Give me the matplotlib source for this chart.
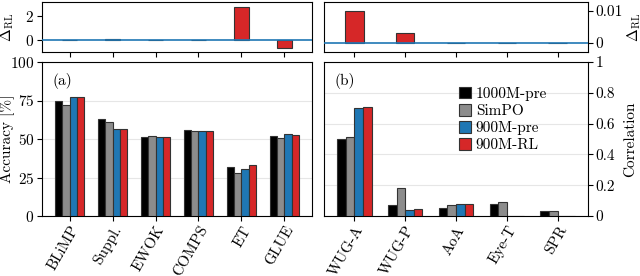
import numpy as np
import matplotlib
matplotlib.use('Agg')
from matplotlib import pyplot as plt

plt.rcParams['font.family'] = 'serif'
plt.rcParams['font.serif'] = ['cmr10', 'DejaVu Serif']
plt.rcParams['mathtext.fontset'] = 'cm'
plt.rcParams['axes.unicode_minus'] = False
plt.rcParams['axes.formatter.use_mathtext'] = True
plt.rcParams['font.size'] = 11

models = ['1000M-pre', 'SimPO', '900M-pre', '900M-RL']
colors = ['#000000', '#8c8c8c', '#1f77b4', '#d62728']

tasks_a = ['BLiMP', 'Suppl.', 'EWOK', 'COMPS', 'ET', 'GLUE']
acc_1000m = [75.0, 63.0, 51.5, 56.0, 31.5, 52.0]
acc_simpo = [72.0, 61.0, 52.0, 55.0, 28.0, 50.5]
acc_900m = [77.5, 56.5, 51.5, 55.0, 30.2, 53.0]
acc_rl = [77.5, 56.6, 51.55, 55.0, 33.0, 52.3]

tasks_b = ['WUG-A', 'WUG-P', 'AoA', 'Eye-T', 'SPR']
cor_1000m = [0.50, 0.07, 0.05, 0.08, 0.03]
cor_simpo = [0.51, 0.18, 0.07, 0.09, 0.035]
cor_900m = [0.70, 0.04, 0.08, 0.002, 0.0]
cor_rl = [0.71, 0.043, 0.08, 0.002, 0.0]

W, H = 640, 276
fig = plt.figure(figsize=(6.4, 2.76), dpi=100)


def box(x0, y0, x1, y1):
    return [x0 / W, 1 - y1 / H, (x1 - x0) / W, (y1 - y0) / H]


ax_da = fig.add_axes(box(42, 2, 312, 52))
ax_a = fig.add_axes(box(42, 62, 312, 216))
ax_db = fig.add_axes(box(324, 2, 588, 52))
ax_b = fig.add_axes(box(324, 62, 588, 216))

bw = 0.17
offs = np.array([-1.5, -0.5, 0.5, 1.5]) * bw


def draw_main(ax, tasks, series):
    x = np.arange(len(tasks))
    for i, (vals, c) in enumerate(zip(series, colors)):
        ax.bar(x + offs[i], vals, bw, color=c, edgecolor='#333333',
               linewidth=0.8, label=models[i], zorder=3)
    ax.set_xticks(x)
    ax.set_xticklabels(tasks, rotation=60, ha='right', rotation_mode='anchor')
    ax.grid(axis='y', color='#e6e6e6', linewidth=0.8, zorder=0)
    ax.tick_params(direction='out', length=3.5, pad=2)


def draw_delta(ax, tasks, pre, rl):
    x = np.arange(len(tasks))
    d = np.array(rl) - np.array(pre)
    ax.bar(x, d, 0.36, color=colors[3], edgecolor='#333333', linewidth=0.8, zorder=3)
    ax.axhline(0, color='#1f77b4', linewidth=1.2, zorder=4)
    ax.set_xticks(x)
    ax.set_xticklabels([])
    ax.tick_params(direction='out', length=3.5, pad=2)


draw_main(ax_a, tasks_a, [acc_1000m, acc_simpo, acc_900m, acc_rl])
ax_a.set_xlim(-0.64, 5.64)
ax_a.set_ylim(0, 100)
ax_a.set_yticks([0, 25, 50, 75, 100])
ax_a.set_ylabel('Accuracy [%]')
ax_a.yaxis.set_label_coords(-0.10, 0.5)
ax_a.text(0.04, 0.93, '(a)', transform=ax_a.transAxes, va='top', ha='left')

draw_main(ax_b, tasks_b, [cor_1000m, cor_simpo, cor_900m, cor_rl])
ax_b.set_xlim(-0.6, 4.6)
ax_b.set_ylim(0, 1)
ax_b.set_yticks([0, 0.2, 0.4, 0.6, 0.8, 1])
ax_b.set_yticklabels(['0', '0.2', '0.4', '0.6', '0.8', '1'])
ax_b.yaxis.tick_right()
ax_b.yaxis.set_label_position('right')
ax_b.set_ylabel('Correlation')
ax_b.yaxis.set_label_coords(1.133, 0.5)
ax_b.text(0.04, 0.93, '(b)', transform=ax_b.transAxes, va='top', ha='left')
ax_b.legend(loc='upper left', bbox_to_anchor=(0.5, 0.86), frameon=False,
            handlelength=0.8, handleheight=0.8, handletextpad=0.3,
            labelspacing=0.2, borderaxespad=0.0, borderpad=0.2)

draw_delta(ax_da, tasks_a, acc_900m, acc_rl)
ax_da.set_xlim(-0.64, 5.64)
ax_da.set_ylim(-1.0, 3.2)
ax_da.set_yticks([0, 2])
ax_da.set_ylabel(r'$\Delta_{\rm RL}$')
ax_da.yaxis.set_label_coords(-0.096, 0.5)

draw_delta(ax_db, tasks_b, cor_900m, cor_rl)
ax_db.set_xlim(-0.6, 4.6)
ax_db.set_ylim(-0.0028, 0.0128)
ax_db.set_yticks([0, 0.01])
ax_db.set_yticklabels(['0', '0.01'])
ax_db.yaxis.tick_right()
ax_db.yaxis.set_label_position('right')
ax_db.set_ylabel(r'$\Delta_{\rm RL}$')
ax_db.yaxis.set_label_coords(1.14, 0.5)

fig.savefig('out.png', dpi=100)
